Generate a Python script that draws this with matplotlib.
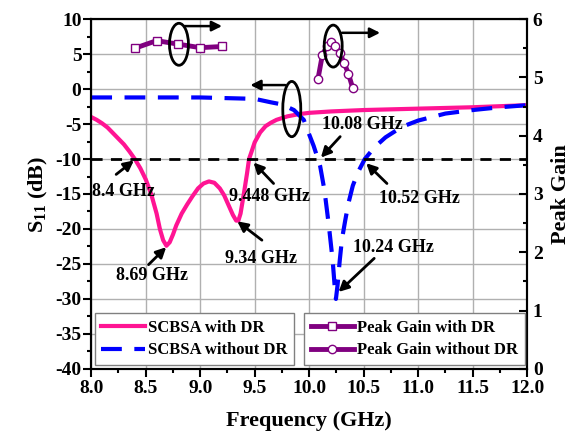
import matplotlib
matplotlib.use("Agg")
import matplotlib.pyplot as plt
from matplotlib.patches import Ellipse
from matplotlib.lines import Line2D
from matplotlib.ticker import MultipleLocator

plt.rcParams["font.family"] = "Liberation Serif"
plt.rcParams["font.weight"] = "bold"
plt.rcParams["mathtext.fontset"] = "custom"
plt.rcParams["mathtext.rm"] = "Liberation Serif:bold"
plt.rcParams["mathtext.it"] = "Liberation Serif:bold"
plt.rcParams["mathtext.bf"] = "Liberation Serif:bold"

# S11 with DR (pink)
freq_dr = [8.0, 8.05, 8.1, 8.15, 8.2, 8.25, 8.3, 8.35, 8.4, 8.45, 8.5, 8.55,
           8.6, 8.63, 8.66, 8.69, 8.72, 8.75, 8.78, 8.83, 8.88, 8.93, 8.98,
           9.03, 9.08, 9.13, 9.18, 9.22, 9.26, 9.3, 9.33, 9.35, 9.37, 9.4,
           9.43, 9.448, 9.47, 9.5, 9.55, 9.6, 9.65, 9.7, 9.8, 9.9, 10.0, 10.2,
           10.5, 11.0, 11.5, 12.0]
s11_dr = [-4.0, -4.4, -4.9, -5.5, -6.3, -7.1, -7.9, -8.9, -10.0, -11.3, -12.9,
          -15.0, -17.8, -20.0, -21.6, -22.4, -21.9, -20.8, -19.5, -17.8, -16.5,
          -15.3, -14.2, -13.5, -13.2, -13.4, -14.2, -15.2, -16.6, -18.0,
          -18.8, -18.8, -17.8, -15.0, -12.0, -10.0, -9.0, -7.6, -6.2, -5.3,
          -4.8, -4.4, -3.9, -3.6, -3.4, -3.2, -3.0, -2.8, -2.6, -2.3]

# S11 without DR (blue dashed)
freq_nodr = [8.0, 8.5, 9.0, 9.5, 9.65, 9.75, 9.86, 9.95, 10.0, 10.04, 10.08,
             10.1, 10.14, 10.18, 10.215, 10.235, 10.245, 10.26, 10.28, 10.3,
             10.33, 10.36, 10.4, 10.45, 10.51, 10.6, 10.7, 10.85, 11.0, 11.25,
             11.5, 11.75, 12.0]
s11_nodr = [-1.2, -1.2, -1.2, -1.4, -1.9, -2.2, -3.0, -4.4, -6.5, -8.1, -10.0,
            -11.0, -14.5, -19.5, -24.5, -28.5, -30.0, -28.0, -24.5, -21.5,
            -18.8, -16.3, -13.8, -11.8, -10.0, -8.3, -6.9, -5.4, -4.5, -3.5,
            -3.0, -2.6, -2.3]

# Peak gain (right axis)
freq_gain_dr = [8.4, 8.6, 8.8, 9.0, 9.2]
gain_dr = [5.50, 5.63, 5.57, 5.51, 5.53]
freq_gain_nodr = [10.08, 10.12, 10.16, 10.20, 10.24, 10.28, 10.32, 10.36, 10.40]
gain_nodr = [4.97, 5.38, 5.53, 5.61, 5.54, 5.42, 5.25, 5.06, 4.81]

# annotations: label, text pos, arrow tail, arrow head
notes = [
    ("8.4 GHz", (8.30, -14.7), (8.229, -12.2), (8.392, -10.2)),
    ("8.69 GHz", (8.557, -26.6), (8.526, -25.1), (8.688, -22.6)),
    ("9.34 GHz", (9.56, -24.2), (9.566, -21.6), (9.34, -18.9)),
    ("9.448 GHz", (9.633, -15.4), (9.673, -13.5), (9.489, -10.5)),
    ("10.08 GHz", (10.49, -5.1), (10.284, -6.8), (10.107, -9.8)),
    ("10.52 GHz", (11.01, -15.6), (10.713, -13.5), (10.523, -10.6)),
    ("10.24 GHz", (10.768, -22.6), (10.596, -24.2), (10.269, -29.0)),
]

pink = "#ff1493"
blue = "#0000ff"
purple = "#800080"
dash = (0, (5, 3))

fig = plt.figure(figsize=(5.7, 4.34), dpi=100)
ax = fig.add_axes([0.16, 0.15, 0.765, 0.806])
ax2 = ax.twinx()

ax.plot(freq_dr, s11_dr, color=pink, lw=3)
ax.plot(freq_nodr, s11_nodr, color=blue, lw=3, ls=dash)
ax.axhline(-10, color="k", lw=2, ls=(0, (4, 3)))

ax2.plot(freq_gain_dr, gain_dr, color=purple, lw=3.5, marker="s", ms=6,
         mfc="white", mec=purple, mew=1, label="Peak Gain with DR")
ax2.plot(freq_gain_nodr, gain_nodr, color=purple, lw=3.5, marker="o", ms=6,
         mfc="white", mec=purple, mew=1, label="Peak Gain without DR")

ax.set_xlim(8, 12)
ax.set_ylim(-40, 10)
ax2.set_ylim(0, 6)
ax.xaxis.set_major_locator(MultipleLocator(0.5))
ax.xaxis.set_minor_locator(MultipleLocator(0.25))
ax.yaxis.set_major_locator(MultipleLocator(5))
ax.yaxis.set_minor_locator(MultipleLocator(2.5))
ax2.yaxis.set_major_locator(MultipleLocator(1))
ax2.yaxis.set_minor_locator(MultipleLocator(0.5))
ax.xaxis.set_major_formatter(lambda v, p: f"{v:.1f}")
ax.yaxis.set_major_formatter(lambda v, p: f"{v:.0f}")
ax.grid(True, color="#b0b0b0", lw=1)
ax.set_axisbelow(True)

ax.tick_params(axis="both", which="major", direction="out", length=6, width=1.5,
               labelsize=14)
ax.tick_params(axis="both", which="minor", direction="out", length=3, width=1.5)
ax.tick_params(axis="x", pad=2)
ax.tick_params(axis="y", pad=1)
ax2.tick_params(axis="y", which="major", direction="in", length=6, width=1.5,
                labelsize=14, pad=4)
ax2.tick_params(axis="y", which="minor", direction="in", length=3, width=1.5)
for a in (ax, ax2):
    for sp in a.spines.values():
        sp.set_linewidth(1.5)

ax.set_xlabel("Frequency (GHz)", fontsize=16, fontweight="bold", labelpad=10)
ax.set_ylabel("S$_{11}$ (dB)", fontsize=16, fontweight="bold", labelpad=4)
ax2.set_ylabel("Peak Gain", fontsize=16, fontweight="bold", labelpad=6)

for label, tpos, tail, head in notes:
    ax.text(tpos[0], tpos[1], label, fontsize=13, fontweight="bold",
            ha="center", va="center")
    ax.annotate("", xy=head, xytext=tail,
                arrowprops=dict(arrowstyle="-|>", color="k", lw=2,
                                mutation_scale=15, shrinkA=0, shrinkB=0))

# ellipses with arrows showing the axis each curve belongs to
ellipses = [((8.805, 6.4), 0.174, 6.0), ((10.22, 6.14), 0.165, 6.0),
            ((9.84, -2.86), 0.165, 7.9)]
for c, w, h in ellipses:
    ax2.add_patch(Ellipse(ax2.transData.inverted().transform(
        ax.transData.transform(c)), w, h * 6 / 50, fill=False, ec="k", lw=2,
        zorder=5))
pointers = [((8.86, 9.0), (9.2, 9.0)), ((10.3, 8.04), (10.65, 8.04)),
            ((9.78, 0.57), (9.46, 0.57))]
for tail, head in pointers:
    ax.annotate("", xy=head, xytext=tail,
                arrowprops=dict(arrowstyle="-|>", color="k", lw=1.8,
                                mutation_scale=15, shrinkA=0, shrinkB=0))

legend_kw = dict(prop=dict(family="Liberation Serif", weight="bold", size=12),
                 fancybox=False, edgecolor="#808080", framealpha=1,
                 handlelength=2.6, handletextpad=0.2, borderpad=0.4,
                 labelspacing=0.4, borderaxespad=0)
h1 = [Line2D([], [], color=pink, lw=3),
      Line2D([], [], color=blue, lw=3, ls=dash)]
leg1 = ax2.legend(h1, ["SCBSA with DR", "SCBSA without DR"],
                  loc="lower left", bbox_to_anchor=(0.008, 0.011), **legend_kw)
leg1.get_frame().set_linewidth(1)
ax2.add_artist(leg1)
leg2 = ax2.legend(loc="lower right", bbox_to_anchor=(0.995, 0.011), **legend_kw)
leg2.get_frame().set_linewidth(1)

fig.savefig("out.png", dpi=100)
